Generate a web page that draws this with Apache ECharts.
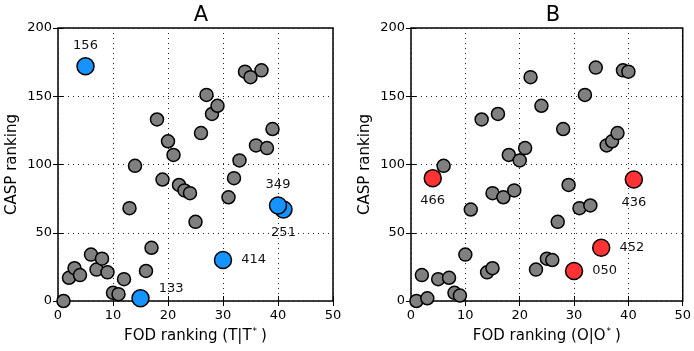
<!DOCTYPE html>
<html>
<head>
<meta charset="utf-8">
<script src="https://cdn.jsdelivr.net/npm/echarts@6/dist/echarts.min.js"></script>
<style>
  html, body { margin: 0; padding: 0; background: #fff; }
  #chart { width: 694px; height: 351px; }
</style>
</head>
<body>
<div id="chart"></div>
<script>
// Panel A: FOD ranking (T|T*) vs CASP ranking
const aFod  = [1, 2, 3, 4, 6, 7, 8, 9, 10, 11, 12, 13, 14, 16, 17, 18, 19, 20, 21, 22, 23, 24, 25, 26, 27, 28, 29, 31, 32, 33, 34, 35, 36, 37, 38, 39];
const aCasp = [0, 17, 24, 19, 34, 23, 31, 21, 6, 5, 16, 68, 99, 22, 39, 133, 89, 117, 107, 85, 81, 79, 58, 123, 151, 137, 143, 76, 90, 103, 168, 164, 114, 169, 112, 126];
const aHiIds  = ['156', '251', '349', '414', '133'];
const aHiFod  = [5, 41, 40, 30, 15];
const aHiCasp = [172, 67, 70, 30, 2];

// Panel B: FOD ranking (O|O*) vs CASP ranking
const bFod  = [1, 2, 3, 5, 6, 7, 8, 9, 10, 11, 13, 14, 15, 15, 16, 17, 18, 19, 20, 21, 22, 23, 24, 25, 26, 27, 28, 29, 31, 32, 33, 34, 36, 37, 38, 39, 40];
const bCasp = [0, 19, 2, 16, 99, 17, 6, 4, 34, 67, 133, 21, 24, 79, 137, 76, 107, 81, 103, 112, 164, 23, 143, 31, 30, 58, 126, 85, 68, 151, 70, 171, 114, 117, 123, 169, 168];
const bHiIds  = ['466', '436', '452', '050'];
const bHiFod  = [4, 41, 35, 30];
const bHiCasp = [90, 89, 39, 22];

// where each highlighted label sits relative to its point
const labelPlace = {
  '156': { position: 'top', distance: 5 },
  '349': { position: 'top', distance: 5 },
  '251': { position: 'bottom', distance: 7 },
  '414': { position: 'right', distance: 9 },
  '133': { position: 'right', distance: 9, offset: [0, -10] },
  '466': { position: 'bottom', distance: 7 },
  '436': { position: 'bottom', distance: 7 },
  '452': { position: 'right', distance: 9 },
  '050': { position: 'right', distance: 9 }
};

const font = 'DejaVu Sans';
const grids = [
  { left: 58, top: 28, width: 275, height: 273, show: true, borderColor: '#000', borderWidth: 1.5 },
  { left: 411, top: 28, width: 274, height: 273, show: true, borderColor: '#000', borderWidth: 1.5 }
];

function mainX(gi, name) {
  return {
    gridIndex: gi, type: 'value', min: 0, max: 50, interval: 10,
    name: name, nameLocation: 'middle', nameGap: 22,
    nameTextStyle: {
      fontFamily: font, fontSize: 15, color: '#000', lineHeight: 18,
      rich: {
        sup: { fontFamily: font, fontSize: 9, color: '#000', verticalAlign: 'top', lineHeight: 18, padding: [0, 4, 6, 1] }
      }
    },
    axisLine: { show: false },
    axisTick: { show: true, inside: true, length: 5, lineStyle: { color: '#000' } },
    axisLabel: { fontFamily: font, fontSize: 13, color: '#000', margin: 8 },
    splitLine: { show: true, lineStyle: { color: '#222', type: [1, 4], width: 1 } }
  };
}
function mainY(gi) {
  return {
    gridIndex: gi, type: 'value', min: 0, max: 200, interval: 50,
    name: 'CASP ranking', nameLocation: 'middle', nameGap: 38,
    nameTextStyle: { fontFamily: font, fontSize: 15, color: '#000' },
    axisLine: { show: false },
    axisTick: { show: true, inside: true, length: 5, lineStyle: { color: '#000' } },
    axisLabel: { fontFamily: font, fontSize: 13, color: '#000', margin: 6 },
    splitLine: { show: true, lineStyle: { color: '#222', type: [1, 4], width: 1 } }
  };
}
function mirror(gi, isX) {
  return {
    gridIndex: gi, type: 'value', min: 0, max: isX ? 50 : 200, interval: isX ? 10 : 50,
    position: isX ? 'top' : 'right',
    axisLine: { show: false },
    axisTick: { show: true, inside: true, length: 5, lineStyle: { color: '#000' } },
    axisLabel: { show: false },
    splitLine: { show: false }
  };
}

function grayPoints(xs, ys, axis) {
  return {
    type: 'scatter', xAxisIndex: axis, yAxisIndex: axis,
    symbolSize: 13,
    itemStyle: { color: '#808080', borderColor: '#000', borderWidth: 1.5, opacity: 1 },
    data: xs.map((x, i) => [x, ys[i]]),
    z: 2
  };
}
function hiPoints(ids, xs, ys, axis, color) {
  return {
    type: 'scatter', xAxisIndex: axis, yAxisIndex: axis,
    symbolSize: 17,
    itemStyle: { color: color, borderColor: '#000', borderWidth: 1.5, opacity: 1 },
    data: ids.map((id, i) => ({
      name: id, value: [xs[i], ys[i]],
      label: Object.assign({
        show: true, formatter: id,
        fontFamily: font, fontSize: 13, color: '#111'
      }, labelPlace[id])
    })),
    z: 3
  };
}

const chart = echarts.init(document.getElementById('chart'));
chart.setOption({
  animation: false,
  backgroundColor: '#fff',
  title: [
    { text: 'A', left: 196, top: 0, textAlign: 'center', textStyle: { fontFamily: font, fontSize: 21, fontWeight: 'normal', color: '#000' } },
    { text: 'B', left: 548, top: 0, textAlign: 'center', textStyle: { fontFamily: font, fontSize: 21, fontWeight: 'normal', color: '#000' } }
  ],
  grid: grids,
  xAxis: [mainX(0, 'FOD ranking (T|T{sup|*})'), mainX(1, 'FOD ranking (O|O{sup|*})'), mirror(0, true), mirror(1, true)],
  yAxis: [mainY(0), mainY(1), mirror(0, false), mirror(1, false)],
  series: [
    grayPoints(aFod, aCasp, 0),
    hiPoints(aHiIds, aHiFod, aHiCasp, 0, '#1593ff'),
    grayPoints(bFod, bCasp, 1),
    hiPoints(bHiIds, bHiFod, bHiCasp, 1, '#ff3333')
  ]
});
</script>
</body>
</html>
